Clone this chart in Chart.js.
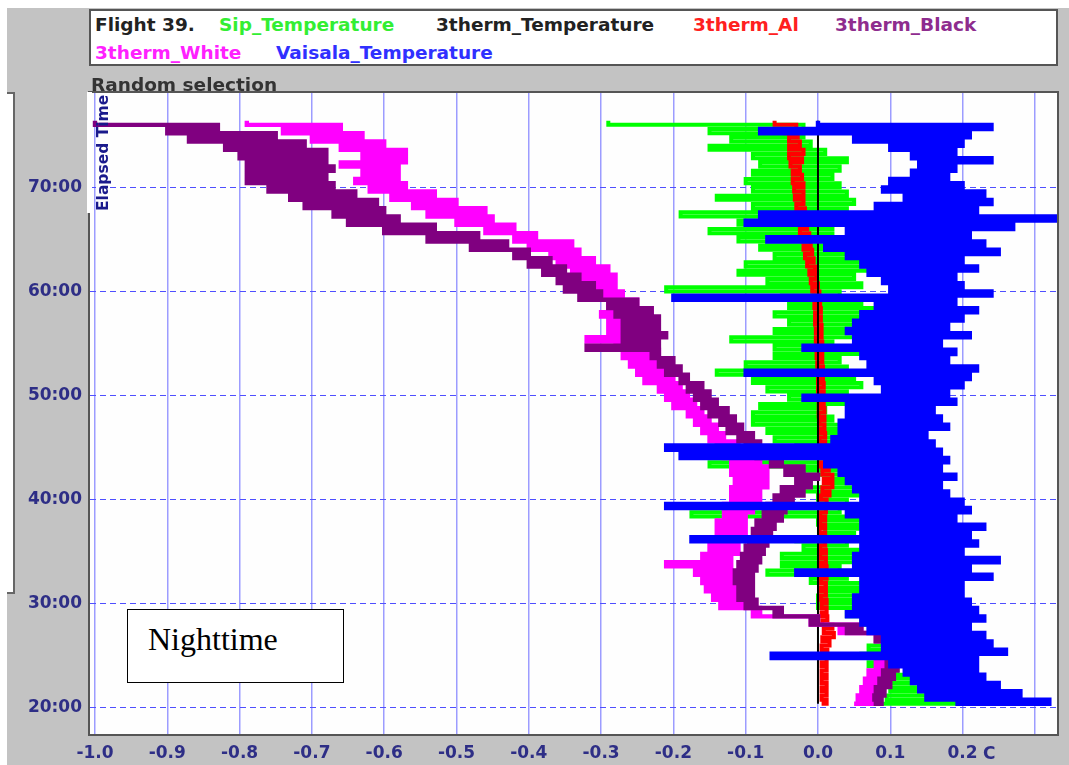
<!DOCTYPE html>
<html>
<head>
<meta charset="utf-8">
<script src="https://cdn.jsdelivr.net/npm/chart.js@4.4.1/dist/chart.umd.min.js"></script>
<style>
html,body{margin:0;padding:0;background:#fff;}
#wrap{position:relative;width:1069px;height:765px;overflow:hidden;background:#fff;}
#panel{position:absolute;left:7px;top:8px;width:1062px;height:757px;background:#c3c3c3;}
#brkt{position:absolute;left:7px;top:92px;width:6px;height:498px;background:#fff;border-top:2px solid #666;border-right:2px solid #666;border-bottom:2px solid #666;}
#c{position:absolute;left:0;top:0;}
#legend{position:absolute;left:89px;top:9px;width:969px;height:57px;box-sizing:border-box;background:#fff;border:2px solid #555;}
.lg{position:absolute;font-family:"DejaVu Sans",sans-serif;font-weight:bold;font-size:18.5px;line-height:20px;white-space:nowrap;}
#etime{position:absolute;left:44px;top:143px;width:118px;height:18px;line-height:18px;transform:rotate(-90deg);transform-origin:59px 9px;font-family:"DejaVu Sans",sans-serif;font-weight:bold;font-size:15.5px;color:#1a1a8c;white-space:nowrap;text-align:left;}
#cover{position:absolute;left:87px;top:92px;width:5px;height:121px;background:#fff;}
#night{position:absolute;left:127px;top:609px;width:217px;height:74px;box-sizing:border-box;border:1px solid #000;background:#fff;}
#night span{position:absolute;left:20px;top:13px;font-family:"Liberation Serif","Times New Roman",serif;font-size:32px;line-height:32px;color:#000;white-space:nowrap;}
#unitC{position:absolute;left:983px;top:743px;font-family:"DejaVu Sans",sans-serif;font-weight:bold;font-size:17px;line-height:20px;color:#2e2e86;}
</style>
</head>
<body>
<div id="wrap">
  <div id="panel"></div>
  <div id="brkt"></div>
  <canvas id="c" width="1069" height="765"></canvas>
  <div id="legend"></div>
  <div class="lg" style="left:95px;top:15px;color:#222;">Flight 39.</div>
  <div class="lg" style="left:219px;top:15px;color:#33ee33;">Sip_Temperature</div>
  <div class="lg" style="left:436px;top:15px;color:#222;">3therm_Temperature</div>
  <div class="lg" style="left:693px;top:15px;color:#ff2020;">3therm_Al</div>
  <div class="lg" style="left:835px;top:15px;color:#8e2c8e;">3therm_Black</div>
  <div class="lg" style="left:95px;top:43px;color:#ff20ff;">3therm_White</div>
  <div class="lg" style="left:276px;top:43px;color:#3030ff;">Vaisala_Temperature</div>
  <div class="lg" style="left:91px;top:75px;color:#333;">Random selection</div>
  <div id="cover"></div>
  <div id="etime">Elapsed Time</div>
  <div id="night"><span>Nighttime</span></div>
  <div id="unitC">C</div>
</div>
<script>
// ---- axis ticks ----
const X_TICKS = [-1.0, -0.9, -0.8, -0.7, -0.6, -0.5, -0.4, -0.3, -0.2, -0.1, 0.0, 0.1, 0.2, 0.3];
const X_TICK_LABELS = ['-1.0', '-0.9', '-0.8', '-0.7', '-0.6', '-0.5', '-0.4', '-0.3', '-0.2', '-0.1', '0.0', '0.1', '0.2', ''];
const Y_TICKS = [20, 30, 40, 50, 60, 70];
const Y_TICK_LABELS = ['20:00', '30:00', '40:00', '50:00', '60:00', '70:00'];
const X_MIN = -1.0069, X_MAX = 0.3306;
const Y_MIN = 17.5, Y_MAX = 79.06;

// ---- elapsed time (minutes) shared by the traces ----
const TIMES = [
  76.4, 76.0, 75.6, 75.2, 74.8, 74.4, 74.0, 73.6, 73.2, 72.8,
  72.4, 72.0, 71.6, 71.2, 70.8, 70.4, 70.0, 69.6, 69.2, 68.8,
  68.4, 68.0, 67.6, 67.2, 66.8, 66.4, 66.0, 65.6, 65.2, 64.8,
  64.4, 64.0, 63.6, 63.2, 62.8, 62.4, 62.0, 61.6, 61.2, 60.8,
  60.4, 60.0, 59.6, 59.2, 58.8, 58.4, 58.0, 57.6, 57.2, 56.8,
  56.4, 56.0, 55.6, 55.2, 54.8, 54.4, 54.0, 53.6, 53.2, 52.8,
  52.4, 52.0, 51.6, 51.2, 50.8, 50.4, 50.0, 49.6, 49.2, 48.8,
  48.4, 48.0, 47.6, 47.2, 46.8, 46.4, 46.0, 45.6, 45.2, 44.8,
  44.4, 44.0, 43.6, 43.2, 42.8, 42.4, 42.0, 41.6, 41.2, 40.8,
  40.4, 40.0, 39.6, 39.2, 38.8, 38.4, 38.0, 37.6, 37.2, 36.8,
  36.4, 36.0, 35.6, 35.2, 34.8, 34.4, 34.0, 33.6, 33.2, 32.8,
  32.4, 32.0, 31.6, 31.2, 30.8, 30.4, 30.0, 29.6, 29.2, 28.8,
  28.4, 28.0, 27.6, 27.2, 26.8, 26.4, 26.0, 25.6, 25.2, 24.8,
  24.4, 24.0, 23.6, 23.2, 22.8, 22.4, 22.0, 21.6, 21.2, 20.8,
  20.4
];

// ---- temperature differences (C) ----
const SIP_TEMPERATURE = [
  -0.29, -0.02, -0.15, -0.02, -0.12, -0.01, -0.15, 0.01, -0.09, 0.04,
  -0.08, 0.03, -0.09, 0.02, -0.10, 0.03, -0.09, 0.04, -0.14, 0.05,
  -0.09, 0.04, -0.19, 0.07, -0.11, 0.02, -0.15, 0.02, -0.11, 0.01,
  -0.08, 0.04, -0.06, 0.08, -0.10, 0.10, -0.11, 0.05, -0.07, 0.06,
  -0.21, 0.03, -0.05, 0.06, -0.04, 0.08, -0.06, 0.06, -0.04, 0.07,
  -0.06, 0.09, -0.12, 0.02, -0.06, 0.06, -0.06, 0.03, -0.10, 0.04,
  -0.14, 0.05, -0.09, 0.06, -0.07, 0.04, -0.04, 0.05, -0.08, 0.01,
  -0.09, 0.02, -0.09, 0.04, -0.07, 0.04, -0.06, 0.03, -0.03, 0.02,
  -0.02, 0.03, -0.15, 0.03, -0.02, 0.04, 0.01, 0.05, -0.03, 0.06,
  0.00, 0.04, -0.03, 0.03, -0.175, 0.07, 0.00, 0.13, 0.01, 0.05,
  -0.03, 0.04, -0.02, 0.06, -0.05, 0.05, -0.05, 0.03, -0.07, 0.04,
  -0.01, 0.07, 0.01, 0.09, 0.00, 0.06, 0.00, 0.06, 0.04, 0.085,
  0.06, 0.09, 0.075, 0.09, 0.08, 0.12, 0.07, 0.09, 0.06, 0.09,
  0.07, 0.11, 0.09, 0.13, 0.10, 0.15, 0.10, 0.17, 0.095, 0.19,
  0.09
];
const THERM_AL = [
  -0.06, -0.03, -0.045, -0.028, -0.04, -0.025, -0.04, -0.02, -0.04, -0.022,
  -0.038, -0.025, -0.035, -0.022, -0.035, -0.02, -0.033, -0.02, -0.032, -0.02,
  -0.03, -0.018, -0.03, -0.016, -0.028, -0.015, -0.025, -0.012, -0.022, -0.01,
  -0.02, -0.008, -0.018, -0.006, -0.015, -0.004, -0.012, -0.002, -0.01, 0.0,
  -0.008, 0.002, -0.006, 0.003, -0.005, 0.004, -0.004, 0.004, -0.004, 0.005,
  -0.003, 0.005, -0.003, 0.006, -0.002, 0.006, -0.002, 0.006, -0.001, 0.007,
  0.0, 0.007, 0.0, 0.008, 0.0, 0.008, 0.001, 0.008, 0.001, 0.009,
  0.001, 0.009, 0.002, 0.009, 0.002, 0.01, 0.002, 0.01, 0.003, 0.01,
  0.003, 0.012, 0.004, 0.015, 0.006, 0.02, 0.008, 0.02, 0.006, 0.016,
  0.004, 0.012, 0.003, 0.011, 0.003, 0.01, 0.003, 0.01, 0.002, 0.01,
  0.002, 0.01, 0.003, 0.011, 0.003, 0.011, 0.004, 0.012, 0.004, 0.012,
  0.004, 0.011, 0.004, 0.011, 0.004, 0.012, 0.005, 0.012, 0.005, 0.013,
  0.006, 0.02, 0.008, 0.022, 0.006, 0.016, 0.005, 0.013, 0.005, 0.012,
  0.005, 0.012, 0.005, 0.012, 0.005, 0.012, 0.005, 0.012, 0.005, 0.012,
  0.005
];
const THERM_BLACK = [
  -1.00, -0.83, -0.90, -0.75, -0.87, -0.71, -0.82, -0.68, -0.80, -0.68,
  -0.79, -0.67, -0.79, -0.68, -0.79, -0.67, -0.76, -0.64, -0.73, -0.61,
  -0.71, -0.60, -0.67, -0.58, -0.65, -0.53, -0.60, -0.47, -0.54, -0.43,
  -0.48, -0.40, -0.42, -0.37, -0.40, -0.35, -0.38, -0.33, -0.36, -0.31,
  -0.35, -0.30, -0.33, -0.25, -0.29, -0.23, -0.28, -0.22, -0.27, -0.22,
  -0.27, -0.21, -0.27, -0.22, -0.32, -0.22, -0.23, -0.20, -0.22, -0.19,
  -0.21, -0.18, -0.19, -0.16, -0.18, -0.15, -0.17, -0.14, -0.16, -0.125,
  -0.15, -0.115, -0.135, -0.105, -0.125, -0.09, -0.11, -0.08, -0.10, -0.07,
  -0.085, -0.05, -0.065, -0.02, -0.045, 0.0, -0.03, -0.01, -0.05, -0.02,
  -0.06, -0.035, -0.07, -0.045, -0.075, -0.05, -0.085, -0.06, -0.09, -0.065,
  -0.095, -0.07, -0.10, -0.075, -0.105, -0.08, -0.11, -0.085, -0.115, -0.09,
  -0.115, -0.09, -0.11, -0.09, -0.11, -0.085, -0.10, -0.05, -0.06, 0.0,
  -0.01, 0.06, 0.04, 0.10, 0.08, 0.11, 0.10, 0.13, 0.10, 0.19,
  0.095, 0.11, 0.09, 0.105, 0.085, 0.10, 0.08, 0.092, 0.078, 0.088,
  0.077
];
const THERM_WHITE = [
  -0.79, -0.66, -0.74, -0.63, -0.70, -0.60, -0.66, -0.57, -0.63, -0.57,
  -0.66, -0.58, -0.63, -0.58, -0.64, -0.57, -0.62, -0.53, -0.59, -0.50,
  -0.56, -0.46, -0.54, -0.45, -0.50, -0.42, -0.46, -0.39, -0.42, -0.34,
  -0.40, -0.33, -0.37, -0.31, -0.36, -0.29, -0.34, -0.28, -0.34, -0.28,
  -0.32, -0.27, -0.30, -0.25, -0.29, -0.23, -0.30, -0.24, -0.29, -0.24,
  -0.29, -0.24, -0.32, -0.23, -0.28, -0.22, -0.27, -0.21, -0.26, -0.21,
  -0.25, -0.20, -0.24, -0.19, -0.22, -0.18, -0.21, -0.17, -0.20, -0.16,
  -0.18, -0.15, -0.17, -0.14, -0.16, -0.13, -0.15, -0.11, -0.14, -0.10,
  -0.13, -0.08, -0.12, -0.07, -0.12, -0.07, -0.115, -0.07, -0.12, -0.08,
  -0.12, -0.08, -0.13, -0.09, -0.13, -0.10, -0.14, -0.10, -0.14, -0.10,
  -0.15, -0.11, -0.15, -0.11, -0.16, -0.12, -0.21, -0.12, -0.17, -0.12,
  -0.16, -0.115, -0.155, -0.11, -0.145, -0.10, -0.135, -0.08, -0.09, 0.0,
  -0.01, 0.06, 0.03, 0.10, 0.08, 0.13, 0.10, 0.12, 0.09, 0.11,
  0.08, 0.10, 0.07, 0.095, 0.065, 0.09, 0.06, 0.08, 0.055, 0.075,
  0.05
];
const VAISALA_TEMPERATURE = [
  0.00, 0.24, -0.08, 0.21, 0.05, 0.20, 0.10, 0.19, 0.13, 0.24,
  0.14, 0.19, 0.13, 0.18, 0.10, 0.20, 0.09, 0.23, 0.12, 0.24,
  0.08, 0.22, -0.08, 0.33, -0.10, 0.27, 0.04, 0.21, -0.07, 0.23,
  0.01, 0.25, 0.04, 0.20, 0.06, 0.22, 0.07, 0.19, 0.09, 0.20,
  0.10, 0.24, -0.20, 0.19, 0.08, 0.22, 0.06, 0.20, 0.05, 0.18,
  0.04, 0.21, 0.05, 0.17, -0.02, 0.19, 0.06, 0.18, 0.07, 0.22,
  -0.10, 0.21, 0.08, 0.20, 0.09, 0.18, -0.02, 0.19, 0.04, 0.16,
  0.04, 0.17, 0.03, 0.18, 0.03, 0.15, 0.02, 0.16, -0.21, 0.17,
  -0.19, 0.18, 0.01, 0.17, 0.03, 0.19, 0.04, 0.17, 0.05, 0.18,
  0.06, 0.20, -0.21, 0.21, 0.04, 0.19, 0.06, 0.23, 0.06, 0.21,
  -0.175, 0.22, 0.06, 0.20, 0.05, 0.25, 0.05, 0.21, -0.03, 0.24,
  0.06, 0.20, 0.06, 0.20, 0.05, 0.21, 0.05, 0.22, 0.04, 0.23,
  0.06, 0.21, 0.07, 0.23, 0.09, 0.24, 0.09, 0.26, -0.064, 0.22,
  0.10, 0.22, 0.12, 0.23, 0.13, 0.25, 0.14, 0.28, 0.15, 0.32,
  0.19
];
// reference thermometer (3therm_Temperature) — the zero line
const THERM_T_TIMES = [76.4, 20.4];
const THERM_TEMPERATURE = [0.0, 0.0];

function pts(values, times) {
  return values.map((v, i) => ({ x: v, y: times[i] }));
}
function trace(label, values, times, color, width, order) {
  return {
    label: label, data: pts(values, times), showLine: true, stepped: 'after',
    borderColor: color, backgroundColor: color, borderWidth: width,
    pointRadius: 0, pointHoverRadius: 0, fill: false, order: order,
    borderJoinStyle: 'miter', borderCapStyle: 'butt'
  };
}

const TICK_COLOR = '#2e2e86';
const frame = {
  id: 'frame',
  beforeDraw(chart) {
    const a = chart.chartArea, c = chart.ctx;
    c.save(); c.fillStyle = '#fefefe';
    c.fillRect(a.left, a.top, a.right - a.left, a.bottom - a.top); c.restore();
  },
  afterDraw(chart) {
    const a = chart.chartArea, c = chart.ctx;
    c.save(); c.strokeStyle = '#555'; c.lineWidth = 2;
    c.strokeRect(a.left - 1, a.top - 1, a.right - a.left + 2, a.bottom - a.top + 2);
    c.restore();
  }
};

new Chart(document.getElementById('c'), {
  type: 'scatter',
  data: {
    datasets: [
      trace('Vaisala_Temperature', VAISALA_TEMPERATURE, TIMES, '#0000ff', 4.4, 1),
      trace('3therm_Black', THERM_BLACK, TIMES, '#800080', 4.4, 2),
      trace('3therm_White', THERM_WHITE, TIMES, '#ff00ff', 4.4, 3),
      trace('3therm_Temperature', THERM_TEMPERATURE, THERM_T_TIMES, '#000000', 2, 4),
      trace('3therm_Al', THERM_AL, TIMES, '#ff0000', 4, 5),
      trace('Sip_Temperature', SIP_TEMPERATURE, TIMES, '#00ff00', 4, 6)
    ]
  },
  options: {
    responsive: false, animation: false, events: [],
    layout: { padding: { top: 93, right: 12, left: 0, bottom: 0 } },
    plugins: { legend: { display: false }, tooltip: { enabled: false }, title: { display: false } },
    scales: {
      x: {
        type: 'linear', min: X_MIN, max: X_MAX,
        afterBuildTicks: s => { s.ticks = X_TICKS.map(v => ({ value: v })); },
        afterFit: s => { s.height = 31; },
        ticks: {
          autoSkip: false, maxRotation: 0, minRotation: 0, padding: 9, color: TICK_COLOR,
          font: { family: 'DejaVu Sans', weight: 'bold', size: 17 },
          callback: (v, i) => X_TICK_LABELS[i]
        },
        grid: { color: '#9c9cff', lineWidth: 1.5, drawTicks: false },
        border: { display: false }
      },
      y: {
        type: 'linear', min: Y_MIN, max: Y_MAX,
        afterBuildTicks: s => { s.ticks = Y_TICKS.map(v => ({ value: v })); },
        afterFit: s => { s.width = 90; },
        ticks: {
          autoSkip: false, padding: 8, color: TICK_COLOR,
          font: { family: 'DejaVu Sans', weight: 'bold', size: 17 },
          callback: (v, i) => Y_TICK_LABELS[i]
        },
        grid: { color: '#4f4fff', lineWidth: 1, drawTicks: false },
        border: { display: false, dash: [6, 4] }
      }
    }
  },
  plugins: [frame]
});
</script>
</body>
</html>
